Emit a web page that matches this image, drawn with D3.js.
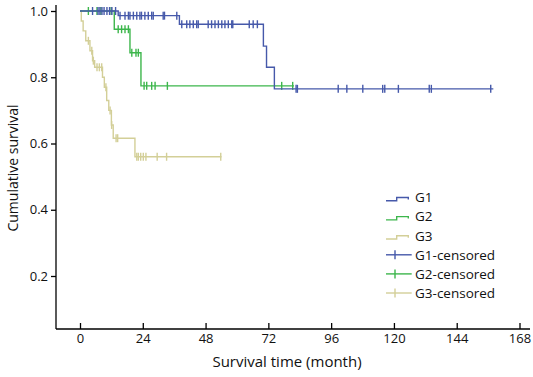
<!DOCTYPE html>
<html>
<head>
<meta charset="utf-8">
<script src="https://cdn.jsdelivr.net/npm/d3@7"></script>
<style>
  body { margin: 0; background: #fff; }
  text { font-family: "Open Sans", sans-serif; }
</style>
</head>
<body>
<script>
// Groups and their colours
let groups = ["G1", "G2", "G3"];
let colors = ["#4659aa", "#3db64c", "#d3cf98"];

// Kaplan-Meier steps: event times (month) and survival after each step
let g1Times = [14.6, 38.0, 70.1, 71.3, 74.3];
let g1Surv = [0.986, 0.960, 0.894, 0.830, 0.765];
let g1Censor = [4.8, 6.9, 7.6, 8.4, 9.2, 10.3, 11.3, 12.2, 13.6,
  15.3, 17.2, 18.5, 19.1, 20.4, 21.7, 22.9, 23.5, 24.8, 26.1, 27.4, 28.0, 31.8, 32.3, 37.0,
  38.9, 40.8, 42.0, 43.3, 44.6, 45.2, 49.0, 50.3, 51.6, 52.9, 54.2, 55.4, 56.7, 58.0, 58.4, 64.7, 66.2, 67.8,
  82.6, 83.1, 98.7, 102.0, 108.1, 115.7, 116.5, 121.7, 133.5, 134.3, 157.0];
let g1End = 158;

let g2Times = [13.1, 19.1, 23.3];
let g2Surv = [0.945, 0.874, 0.774];
let g2Censor = [3.2, 6.5, 8.0, 11.9, 14.6, 15.9, 17.2, 18.5, 19.8, 21.4, 22.3,
  24.5, 25.5, 27.4, 28.7, 33.4, 77.1, 81.3];
let g2End = 81.8;

let g3Times = [0.5, 1.2, 2.2, 3.8, 4.8, 5.6, 8.6, 9.3, 10.2, 11.0, 12.0, 12.7, 21.0];
let g3Surv = [0.97, 0.94, 0.91, 0.88, 0.85, 0.83, 0.80, 0.77, 0.73, 0.70, 0.656, 0.616, 0.56];
let g3Censor = [3.2, 4.5, 5.1, 6.5, 7.4, 8.3, 9.9, 11.5, 12.1, 13.8, 14.4,
  21.7, 22.3, 23.2, 24.2, 25.2, 29.5, 33.1, 53.8];
let g3End = 54.1;

// Axis ticks
let xTicks = [0, 24, 48, 72, 96, 120, 144, 168];
let yTicks = [0.2, 0.4, 0.6, 0.8, 1.0];

let width = 533;
let height = 377;

let svg = d3.select("body")
  .append("svg")
  .attr("width", width)
  .attr("height", height);

let xScale = d3.scaleLinear().domain([0, 168]).range([80, 519.5]);
let yScale = d3.scaleLinear().domain([0.2, 1.0]).range([276, 11]);

let axisY0 = 329; // x axis line position
let axisX0 = 56;  // y axis line position

let series = [
  { times: g1Times, surv: g1Surv, censor: g1Censor, end: g1End },
  { times: g2Times, surv: g2Surv, censor: g2Censor, end: g2End },
  { times: g3Times, surv: g3Surv, censor: g3Censor, end: g3End }
];

// survival value at time t (step function)
function survAt(s, t) {
  let i = d3.bisectRight(s.times, t);
  return i === 0 ? 1 : s.surv[i - 1];
}

let line = d3.line()
  .x(d => xScale(d[0]))
  .y(d => yScale(d[1]))
  .curve(d3.curveStepAfter);

// draw in reverse so G1 is on top
series.slice().reverse().forEach((s, ri) => {
  let gi = series.length - 1 - ri;
  let pts = [[0, 1]];
  s.times.forEach((t, i) => pts.push([t, s.surv[i]]));
  pts.push([s.end, s.surv[s.surv.length - 1]]);

  svg.append("path")
    .attr("d", line(pts))
    .attr("fill", "none")
    .attr("stroke", colors[gi])
    .attr("stroke-width", 1.4);

  svg.append("g")
    .selectAll("line")
    .data(s.censor)
    .enter()
    .append("line")
    .attr("x1", d => xScale(d))
    .attr("x2", d => xScale(d))
    .attr("y1", d => yScale(survAt(s, d)) - 4)
    .attr("y2", d => yScale(survAt(s, d)) + 4)
    .attr("stroke", colors[gi])
    .attr("stroke-width", 1.4);
});

// x axis (ticks point up)
let xAxis = svg.append("g")
  .attr("transform", `translate(0, ${axisY0})`)
  .call(d3.axisBottom(xScale).tickValues(xTicks).tickSizeInner(-6).tickSizeOuter(0).tickPadding(5));
xAxis.select(".domain").remove();
xAxis.selectAll("line").attr("stroke-width", 1.3);
xAxis.selectAll("text").style("font-size", "13px").attr("fill", "#111");
svg.append("line")
  .attr("x1", axisX0).attr("x2", 530)
  .attr("y1", axisY0).attr("y2", axisY0)
  .attr("stroke", "#000").attr("stroke-width", 1.3);

// y axis
let yAxis = svg.append("g")
  .attr("transform", `translate(${axisX0}, 0)`)
  .call(d3.axisLeft(yScale).tickValues(yTicks).tickFormat(d3.format(".1f")).tickSize(5).tickPadding(3));
yAxis.select(".domain").remove();
yAxis.selectAll("line").attr("stroke-width", 1.3);
yAxis.selectAll("text").style("font-size", "13px").attr("fill", "#111");
svg.append("line")
  .attr("x1", axisX0).attr("x2", axisX0)
  .attr("y1", 5).attr("y2", axisY0)
  .attr("stroke", "#000").attr("stroke-width", 1.3);

// axis titles
svg.append("text")
  .attr("x", 287)
  .attr("y", 367)
  .style("text-anchor", "middle")
  .style("font-size", "15px")
  .attr("fill", "#111")
  .text("Survival time (month)");

svg.append("text")
  .attr("transform", "rotate(-90)")
  .attr("x", -168)
  .attr("y", 18)
  .style("text-anchor", "middle")
  .style("font-size", "14px")
  .attr("fill", "#111")
  .text("Cumulative survival");

// legend
let legendLabels = ["G1", "G2", "G3", "G1-censored", "G2-censored", "G3-censored"];
let legend = svg.selectAll(".legend")
  .data(legendLabels)
  .enter().append("g")
  .attr("class", "legend")
  .attr("transform", (d, i) => `translate(386, ${197.5 + i * 19.1})`);

legend.each(function (d, i) {
  let g = d3.select(this);
  let c = colors[i % 3];
  if (i < 3) {
    g.append("path")
      .attr("d", "M0,3.3H10.7V0H22.3V2")
      .attr("fill", "none")
      .attr("stroke", c)
      .attr("stroke-width", 1.4);
  } else {
    g.append("line").attr("x1", 0).attr("x2", 25.7).attr("y1", 0).attr("y2", 0)
      .attr("stroke", c).attr("stroke-width", 1.4);
    g.append("line").attr("x1", 9).attr("x2", 9).attr("y1", -4.5).attr("y2", 4.5)
      .attr("stroke", c).attr("stroke-width", 1.4);
  }
  g.append("text")
    .attr("x", 29)
    .attr("y", 4.8)
    .style("font-size", "13.5px")
    .attr("fill", "#111")
    .text(d);
});
</script>
</body>
</html>
